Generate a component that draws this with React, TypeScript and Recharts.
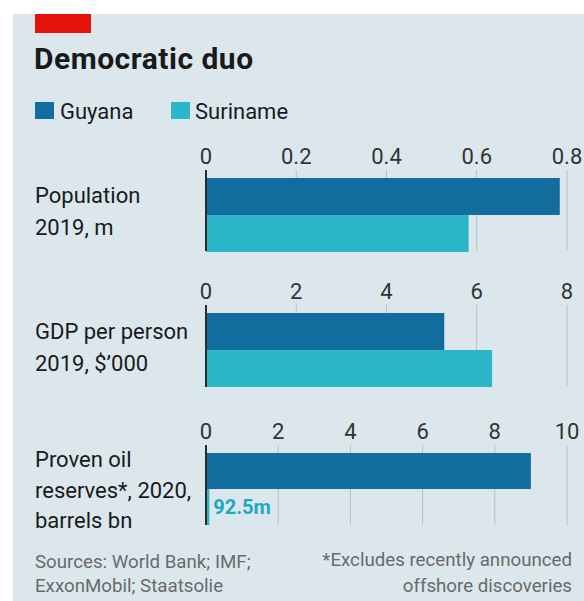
import { BarChart, Bar, XAxis, YAxis, CartesianGrid, ReferenceLine, LabelList } from "recharts";

// values
const seriesNames = ["Guyana", "Suriname"];
const panelTitles = ["Population", "GDP per person", "Proven oil"];
const panelSubtitles = [["2019, m"], ["2019, $\u2019000"], ["reserves*, 2020,", "barrels bn"]];
const guyanaValues = [0.784, 5.28, 9.0];
const surinameValues = [0.582, 6.34, 0.0925];
const panelTicks = [
  [0, 0.2, 0.4, 0.6, 0.8],
  [0, 2, 4, 6, 8],
  [0, 2, 4, 6, 8, 10],
];

const colors = {
  guyana: "#136c9e",
  suriname: "#2cb7c9",
  bg: "#dbe7ed",
  grid: "#b3c1c9",
  zero: "#2b2b2b",
  text: "#1a1a1a",
  note: "#6a6a6a",
  red: "#e3120b",
  label: "#1aaac4",
};

const FONT = "Roboto, 'Open Sans', sans-serif";

// where each panel's plot area sits on the page
const panelLayout = [
  { top: 130, height: 125, labelY: 203, step: 32 },
  { top: 265, height: 126, labelY: 339, step: 32 },
  { top: 405, height: 124, labelY: 467, step: 30.5 },
];

function fmt(v: number) {
  return String(v);
}

const AxisTick = (props: any) => {
  const { x, y, payload } = props;
  const v = payload.value;
  const isZero = v === 0;
  return (
    <g>
      <line
        x1={x}
        x2={x}
        y1={y - 8}
        y2={y}
        stroke={isZero ? colors.zero : colors.grid}
        strokeWidth={isZero ? 2 : 1}
      />
      <text x={x} y={y - 14} textAnchor="middle" fontSize={22} fill="#333" fontFamily={FONT}>
        {fmt(v)}
      </text>
    </g>
  );
};

function Panel({ idx }: { idx: number }) {
  const ticks = panelTicks[idx];
  const data = [
    { name: panelTitles[idx], guyana: guyanaValues[idx], suriname: surinameValues[idx] },
  ];
  const lay = panelLayout[idx];
  return (
    <div style={{ position: "absolute", left: 0, top: lay.top }}>
      <BarChart
        width={584}
        height={lay.height}
        data={data}
        layout="vertical"
        margin={{ top: 18, right: 17, bottom: 4, left: 206 }}
        barCategoryGap={0}
        barGap={0}
      >
        <CartesianGrid horizontal={false} stroke={colors.grid} />
        <XAxis
          type="number"
          orientation="top"
          domain={[0, ticks[ticks.length - 1]]}
          ticks={ticks}
          interval={0}
          height={30}
          tickSize={0}
          tickMargin={0}
          tickLine={false}
          axisLine={false}
          tick={<AxisTick />}
        />
        <YAxis type="category" dataKey="name" hide />
        <ReferenceLine x={0} stroke={colors.zero} strokeWidth={2} />
        <Bar dataKey="guyana" fill={colors.guyana} isAnimationActive={false} />
        <Bar dataKey="suriname" fill={colors.suriname} isAnimationActive={false}>
          {idx === 2 && (
            <LabelList
              dataKey="suriname"
              position="right"
              offset={4}
              formatter={(v: any) => `${Math.round(Number(v) * 10000) / 10}m`}
              fill={colors.label}
              fontSize={20}
              fontWeight={700}
              fontFamily={FONT}
            />
          )}
        </Bar>
      </BarChart>
    </div>
  );
}

export default function App() {
  return (
    <div style={{ position: "relative", width: 584, height: 601, background: "#fff", overflow: "hidden" }}>
      <style>{`body{margin:0}`}</style>
      <div style={{ position: "absolute", left: 13, top: 14, width: 571, height: 587, background: colors.bg }} />
      <svg width={584} height={601} style={{ position: "absolute", left: 0, top: 0 }} fontFamily={FONT}>
        <rect x={35} y={14} width={56} height={19} fill={colors.red} />
        <text x={34} y={69} fontSize={30} fontWeight={700} letterSpacing={0.5} fill={colors.text}>
          Democratic duo
        </text>
        <rect x={35} y={102} width={19} height={17} fill={colors.guyana} />
        <text x={60} y={119} fontSize={22} fill={colors.text}>
          {seriesNames[0]}
        </text>
        <rect x={171} y={102} width={19} height={17} fill={colors.suriname} />
        <text x={195} y={119} fontSize={22} fill={colors.text}>
          {seriesNames[1]}
        </text>
        {panelTitles.map((t, i) => {
          const lay = panelLayout[i];
          return (
            <text key={t} x={35} y={lay.labelY} fontSize={22} fill={colors.text}>
              <tspan x={35}>{t}</tspan>
              {panelSubtitles[i].map((s, j) => (
                <tspan key={s} x={35} y={lay.labelY + lay.step * (j + 1)}>
                  {s}
                </tspan>
              ))}
            </text>
          );
        })}
        <text fontSize={18.7} fill={colors.note}>
          <tspan x={35} y={568}>Sources: World Bank; IMF;</tspan>
          <tspan x={35} y={592}>ExxonMobil; Staatsolie</tspan>
        </text>
        <text fontSize={18.7} fill={colors.note} textAnchor="end">
          <tspan x={572} y={566}>*Excludes recently announced</tspan>
          <tspan x={572} y={592}>offshore discoveries</tspan>
        </text>
      </svg>
      <Panel idx={0} />
      <Panel idx={1} />
      <Panel idx={2} />
    </div>
  );
}
